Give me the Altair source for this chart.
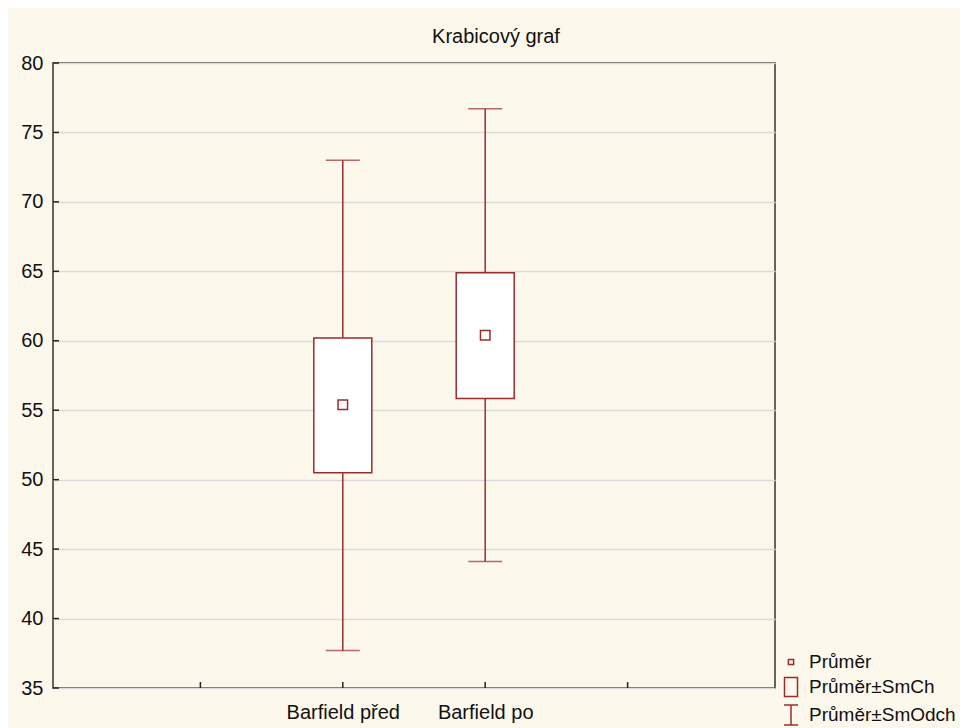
import altair as alt
import pandas as pd

# ---- data ----
categories = ["Barfield před", "Barfield po"]
positions = [2, 3]
means = [55.4, 60.4]
se_low = [50.5, 55.85]
se_high = [60.2, 64.9]
sd_low = [37.7, 44.1]
sd_high = [73.0, 76.7]

y_ticks = [35, 40, 45, 50, 55, 60, 65, 70, 75, 80]
x_ticks = [1, 2, 3, 4]

legend_labels = ["Průměr", "Průměr±SmCh", "Průměr±SmOdch"]
legend_paths = [
    "M-0.26,-0.26H0.26V0.26H-0.26Z",
    "M-0.65,-0.95H0.65V0.95H-0.65Z",
    "M-0.7,-1H0.7M0,-1V1M-0.7,1H0.7",
]

RED = "#9b2c2c"
FONT = "Liberation Sans"
W, H = 722, 625

df = pd.DataFrame({
    "cat": categories, "pos": positions, "mean": means,
    "se_low": se_low, "se_high": se_high, "sd_low": sd_low, "sd_high": sd_high,
})
ytick_df = pd.DataFrame({"v": y_ticks})
xtick_df = pd.DataFrame({"v": x_ticks})
leg_df = pd.DataFrame({"label": legend_labels})

label_expr = " : ".join(
    f"datum.value == {p} ? '{c}'" for p, c in zip(positions, categories)
) + " : ''"

xscale = alt.Scale(domain=[0, 5], nice=False, zero=False)
yscale = alt.Scale(domain=[35, 80], nice=False, zero=False)

x_axis = alt.Axis(values=positions, labelExpr=label_expr, ticks=False, tickSize=0,
                  grid=False, domain=False, title=None, labelPadding=14,
                  labelFontSize=20, labelFont=FONT, labelColor="#111")
y_axis = alt.Axis(values=y_ticks, grid=True, gridColor="#d9d9d9", gridWidth=1.5,
                  ticks=False, tickSize=0, domain=False, title=None, labelPadding=10,
                  labelFontSize=20, labelFont=FONT, labelColor="#111")

base = alt.Chart(df)

boxes = base.mark_bar(size=58, fill="white", stroke=RED, strokeWidth=1.5).encode(
    x=alt.X("pos:Q", scale=xscale, axis=x_axis),
    y=alt.Y("se_low:Q", scale=yscale, axis=y_axis),
    y2="se_high:Q",
)
whisk_low = base.mark_rule(color=RED, strokeWidth=1.5).encode(
    x=alt.X("pos:Q", scale=xscale), y=alt.Y("sd_low:Q", scale=yscale), y2="se_low:Q")
whisk_high = base.mark_rule(color=RED, strokeWidth=1.5).encode(
    x=alt.X("pos:Q", scale=xscale), y=alt.Y("se_high:Q", scale=yscale), y2="sd_high:Q")
cap_low = base.mark_tick(color=RED, orient="horizontal", size=34, thickness=1.5).encode(
    x=alt.X("pos:Q", scale=xscale), y=alt.Y("sd_low:Q", scale=yscale))
cap_high = base.mark_tick(color=RED, orient="horizontal", size=34, thickness=1.5).encode(
    x=alt.X("pos:Q", scale=xscale), y=alt.Y("sd_high:Q", scale=yscale))
mean_pts = base.mark_square(size=90, filled=False, color=RED, strokeWidth=1.5, opacity=1).encode(
    x=alt.X("pos:Q", scale=xscale), y=alt.Y("mean:Q", scale=yscale))

ytick_marks = alt.Chart(ytick_df).mark_rule(color="#222", strokeWidth=1.5).encode(
    y=alt.Y("v:Q", scale=yscale), x=alt.value(0), x2=alt.value(6))
xtick_marks = alt.Chart(xtick_df).mark_rule(color="#222", strokeWidth=1.5).encode(
    x=alt.X("v:Q", scale=xscale), y=alt.value(H), y2=alt.value(H - 6))

legend_layer = alt.Chart(leg_df).mark_point(opacity=0, filled=False, color=RED).encode(
    shape=alt.Shape("label:N",
                    scale=alt.Scale(domain=legend_labels, range=legend_paths),
                    legend=alt.Legend(
                        orient="none", legendX=727, legendY=588, title=None,
                        symbolSize=400, symbolOpacity=1, symbolStrokeColor=RED,
                        symbolFillColor="transparent", symbolStrokeWidth=1.5,
                        labelFont=FONT, labelFontSize=19, labelColor="#111",
                        labelOffset=7, rowPadding=2, padding=0, labelLimit=300,
                    )),
)

chart = alt.layer(
    boxes, whisk_low, whisk_high, cap_low, cap_high, mean_pts,
    ytick_marks, xtick_marks, legend_layer,
).properties(
    width=W, height=H,
    autosize=alt.AutoSizeParams(type="none"),
    padding={"left": 45, "top": 55, "right": 185, "bottom": 40},
    background="#fdf8ec",
    title=alt.TitleParams("Krabicový graf", anchor="middle", dx=82, offset=6,
                          font=FONT, fontSize=20, fontWeight="normal", color="#111"),
).configure_view(
    fill="white", stroke="#333", strokeWidth=1.5,
)

chart.save("out.html", embed_options={"renderer": "svg", "actions": False})
